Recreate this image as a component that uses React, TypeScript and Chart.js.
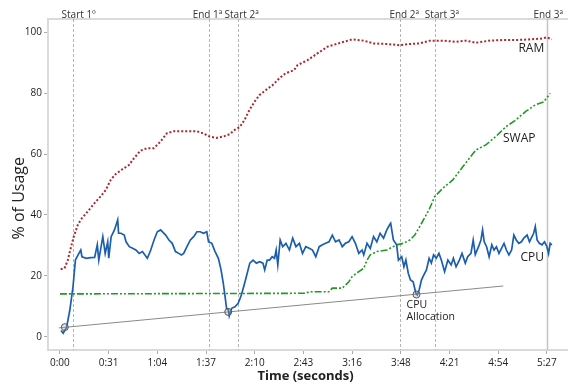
import React, { useEffect, useRef } from "react";
import { Chart, registerables } from "chart.js";

Chart.register(...registerables);

// X axis ticks (seconds) and their labels
const tickSeconds = [0, 32.7, 65.4, 98.1, 130.8, 163.5, 196.2, 228.9, 261.6, 294.3, 327];
const tickLabels = ["0:00", "0:31", "1:04", "1:37", "2:10", "2:43", "3:16", "3:48", "4:21", "4:54", "5:27"];
const yTicks = [0, 20, 40, 60, 80, 100];

// Phase markers
const phaseNames = ["Start 1º", "End 1ª", "Start 2ª", "End 2ª", "Start 3ª", "End 3ª"];
const phaseTimes = [8.9, 100.4, 119.9, 228.6, 251.6, 327];
const phaseLabelTimes = [12.6, 99.1, 122.0, 231.2, 256.5, 327.9];

// Series: [seconds, % usage]
const cpuSamples: [number, number][] = [
  [0.7, 2.1], [2.2, 1.2], [4.5, 3.2], [6.7, 8.9], [8.8, 16.5], [10.4, 25.2], [12.2, 26.9], [14.0, 28.5],
  [14.8, 26.3], [17.8, 25.8], [20.6, 26.0], [23.3, 26.1], [25.1, 30.2], [26.1, 25.2], [28.8, 32.9], [30.4, 27.4],
  [32.1, 31.2], [32.8, 25.8], [34.4, 32.9], [35.5, 34.0], [36.6, 35.1], [37.7, 36.7], [38.8, 38.4], [39.4, 34.0],
  [41.0, 34.0], [43.2, 33.4], [44.4, 31.2], [46.6, 29.6], [48.8, 29.1], [51.0, 28.5], [53.2, 27.4], [55.4, 28.0],
  [58.7, 25.8], [61.0, 28.5], [63.2, 31.8], [65.4, 34.5], [67.6, 35.1], [71.0, 33.4], [73.2, 31.8], [75.4, 30.7],
  [77.6, 28.0], [79.8, 27.4], [81.6, 26.9], [83.1, 27.4], [85.3, 29.6], [87.6, 31.8], [89.8, 32.9], [92.0, 34.5],
  [94.2, 34.5], [96.4, 34.0], [98.6, 34.5], [99.8, 31.2], [102.0, 30.7], [104.2, 28.0], [106.4, 25.8], [108.2, 22.0],
  [109.7, 17.6], [110.9, 13.2], [111.9, 9.4], [113.1, 8.9], [113.7, 6.9], [115.3, 9.4], [117.5, 9.9], [119.7, 11.0],
  [121.9, 13.8], [123.7, 17.0], [125.2, 19.8], [127.5, 24.2], [129.7, 25.2], [131.9, 24.2], [134.2, 24.7], [136.3, 24.2],
  [137.5, 22.0], [139.2, 25.2], [140.8, 25.2], [142.5, 26.3], [144.1, 25.8], [145.2, 28.5], [146.3, 23.6], [147.9, 31.8],
  [149.6, 29.6], [151.8, 30.7], [154.1, 28.5], [156.3, 32.4], [158.5, 29.6], [160.8, 30.7], [162.9, 27.4], [165.1, 29.6],
  [167.4, 29.1], [169.6, 28.5], [171.8, 26.3], [174.1, 29.6], [176.3, 30.2], [178.4, 30.7], [180.7, 31.2], [182.9, 33.4],
  [185.1, 31.2], [187.4, 31.8], [189.6, 29.6], [191.7, 30.7], [194.0, 31.2], [196.2, 32.9], [198.4, 30.7], [200.7, 27.4],
  [202.9, 28.5], [204.0, 26.9], [206.2, 30.7], [208.4, 29.0], [210.6, 32.9], [212.8, 31.2], [215.0, 34.0], [217.3, 32.4],
  [219.5, 35.1], [221.3, 36.7], [222.1, 37.3], [223.9, 31.8], [226.1, 30.2], [227.3, 25.2], [229.5, 26.3], [231.0, 23.0],
  [232.3, 25.2], [233.9, 20.9], [235.4, 18.7], [237.2, 18.1], [239.0, 14.3], [239.9, 13.8], [241.2, 15.4], [242.8, 18.7],
  [244.3, 20.3], [246.1, 22.0], [247.9, 25.8], [249.4, 24.2], [250.9, 26.9], [252.7, 25.8], [254.5, 27.4], [256.1, 25.2],
  [258.3, 21.4], [260.5, 25.2], [262.7, 23.6], [264.2, 25.8], [266.0, 23.0], [268.2, 25.2], [270.0, 27.4], [272.2, 24.2],
  [273.8, 26.3], [276.0, 27.4], [277.5, 31.8], [278.9, 27.0], [281.1, 29.6], [282.7, 31.8], [283.8, 35.1], [284.9, 31.2],
  [286.5, 29.6], [288.2, 26.3], [290.0, 30.2], [291.5, 28.5], [293.1, 29.6], [294.8, 27.4], [296.6, 29.1], [298.2, 30.7],
  [299.8, 28.5], [301.5, 26.9], [303.3, 28.5], [304.8, 33.4], [306.4, 31.8], [308.1, 30.7], [309.9, 31.2], [311.5, 32.4],
  [313.7, 33.4], [315.3, 31.2], [317.0, 32.9], [318.1, 34.0], [319.2, 36.2], [320.4, 31.8], [321.9, 30.7], [323.7, 30.2],
  [325.4, 31.2], [327.0, 29.6], [328.1, 27.4], [329.2, 30.7], [330.3, 30.2],
];

const ramSamples: [number, number][] = [
  [0.5, 22.2], [3.1, 22.5], [5.3, 25.2], [7.5, 29.6], [9.3, 32.9], [12.0, 36.7], [14.2, 38.6], [18.6, 41.1],
  [23.1, 43.8], [27.5, 46.2], [30.8, 48.2], [34.1, 51.5], [37.4, 53.4], [41.9, 55.0], [46.4, 56.4], [49.7, 58.6],
  [54.1, 61.1], [58.5, 61.9], [63.0, 61.9], [67.4, 64.0], [71.8, 66.8], [76.3, 67.5], [85.1, 67.5], [91.8, 67.5],
  [96.2, 66.8], [100.6, 65.7], [105.1, 65.3], [109.5, 65.7], [113.9, 66.5], [117.3, 67.9], [120.6, 68.8], [123.9, 71.1],
  [127.2, 74.4], [130.6, 77.1], [133.9, 79.3], [138.3, 81.0], [142.8, 82.6], [147.2, 84.8], [151.6, 86.5], [157.2, 87.5],
  [159.6, 89.2], [166.3, 90.8], [172.9, 93.0], [179.6, 95.2], [188.4, 96.5], [196.2, 97.6], [204.0, 97.2], [210.6, 96.3],
  [219.5, 96.1], [228.3, 95.7], [235.0, 96.1], [241.6, 96.3], [248.3, 97.2], [257.2, 97.2], [266.0, 96.8], [272.7, 97.2],
  [279.3, 96.5], [288.2, 97.2], [297.1, 97.4], [305.9, 97.4], [314.8, 97.6], [323.7, 97.9], [327.0, 98.3], [330.3, 97.6],
];

const swapSamples: [number, number][] = [
  [0, 14.1], [159.6, 14.3], [164.9, 14.3], [167.6, 14.8], [180.7, 14.8], [182.9, 16.0], [189.6, 16.0], [194.0, 18.1],
  [196.2, 19.8], [200.7, 21.4], [204.0, 22.5], [206.2, 25.2], [208.4, 26.9], [212.8, 28.0], [219.5, 28.5], [226.1, 30.2],
  [230.6, 30.7], [235.0, 31.8], [238.3, 33.4], [241.6, 36.2], [245.0, 39.2], [248.3, 42.2], [251.6, 46.0], [257.2, 48.8],
  [263.8, 51.5], [270.5, 55.8], [274.9, 58.6], [279.3, 61.3], [286.0, 63.0], [292.6, 65.7], [299.3, 68.9], [305.9, 71.1],
  [312.6, 73.9], [319.2, 76.1], [324.8, 77.1], [329.2, 79.9],
];

const trendLine: [number, number][] = [[-0.7, 2.95], [297.7, 16.7]];
const allocPoints: [number, number][] = [[3.3, 3.2], [113.0, 8.2], [239.4, 13.9]];

// Series name annotations: [text, seconds, value]
const seriesNames: [string, number, number][] = [
  ["RAM", 316.5, 94.6],
  ["SWAP", 308.4, 65.1],
  ["CPU", 317.2, 25.9],
];
const allocLabelLines = ["CPU", "Allocation"];
const allocLabelPos: [number, number] = [232.8, 10.5];
const yTitle = "% of Usage";
const yTitleCenterValue = 45.5;

const FONT = "'Open Sans', 'Noto Sans', sans-serif";

const toXY = (arr: [number, number][]) => arr.map(([x, y]) => ({ x, y }));

const overlayPlugin = {
  id: "overlay",
  beforeDatasetsDraw(chart: any) {
    const { ctx, chartArea, scales } = chart;
    const xs = scales.x;
    ctx.save();
    // frame: left, top, bottom
    ctx.strokeStyle = "#dadada";
    ctx.lineWidth = 2;
    ctx.beginPath();
    ctx.moveTo(chart.width + 2, chartArea.top);
    ctx.lineTo(chartArea.left, chartArea.top);
    ctx.lineTo(chartArea.left, chartArea.bottom);
    ctx.lineTo(chart.width + 2, chartArea.bottom);
    ctx.stroke();
    // phase lines
    phaseTimes.forEach((t, i) => {
      const px = Math.round(xs.getPixelForValue(t)) + 0.5;
      ctx.beginPath();
      if (i === phaseTimes.length - 1) {
        ctx.setLineDash([]);
        ctx.strokeStyle = "#c4c4c4";
        ctx.lineWidth = 1.5;
      } else {
        ctx.setLineDash([3, 2]);
        ctx.strokeStyle = "#b4b4b4";
        ctx.lineWidth = 1;
      }
      ctx.moveTo(px, chartArea.top);
      ctx.lineTo(px, chartArea.bottom);
      ctx.stroke();
    });
    ctx.restore();
  },
  afterDatasetsDraw(chart: any) {
    const { ctx, chartArea, scales } = chart;
    const xs = scales.x;
    const ys = scales.y;
    ctx.save();
    ctx.fillStyle = "#333";
    ctx.font = `10px ${FONT}`;
    ctx.textAlign = "center";
    ctx.textBaseline = "middle";
    phaseNames.forEach((name, i) => {
      ctx.fillText(name, xs.getPixelForValue(phaseLabelTimes[i]), chartArea.top - 4);
    });
    ctx.font = `12px ${FONT}`;
    ctx.fillStyle = "#222";
    seriesNames.forEach(([text, t, v]) => {
      ctx.fillText(text, xs.getPixelForValue(t), ys.getPixelForValue(v));
    });
    ctx.font = `10.5px ${FONT}`;
    ctx.textAlign = "left";
    const ax = xs.getPixelForValue(allocLabelPos[0]);
    const ay = ys.getPixelForValue(allocLabelPos[1]);
    allocLabelLines.forEach((line, i) => ctx.fillText(line, ax, ay + i * 12));
    // y title
    ctx.translate(19, ys.getPixelForValue(yTitleCenterValue));
    ctx.rotate(-Math.PI / 2);
    ctx.textAlign = "center";
    ctx.font = `16px ${FONT}`;
    ctx.fillStyle = "#222";
    ctx.fillText(yTitle, 0, 0);
    ctx.restore();
  },
};

export default function App() {
  const canvasRef = useRef<HTMLCanvasElement | null>(null);

  useEffect(() => {
    const canvas = canvasRef.current;
    if (!canvas) return;
    const chart = new Chart(canvas, {
      type: "line",
      data: {
        datasets: [
          {
            label: "Allocation points",
            data: toXY(allocPoints),
            showLine: false,
            pointRadius: 3.5,
            pointBorderColor: "#555",
            pointBackgroundColor: "rgba(170,170,170,0.35)",
            pointBorderWidth: 1,
            order: 0,
          },
          {
            label: "CPU",
            data: toXY(cpuSamples),
            borderColor: "#1b5eac",
            borderWidth: 1.7,
            pointRadius: 0,
            tension: 0,
            order: 1,
          },
          {
            label: "Trend",
            data: toXY(trendLine),
            borderColor: "#8a8a8a",
            borderWidth: 1,
            pointRadius: 0,
            order: 2,
          },
          {
            label: "SWAP",
            data: toXY(swapSamples),
            borderColor: "#1f9a23",
            borderWidth: 1.6,
            borderDash: [7, 2, 2, 2, 2, 2],
            pointRadius: 0,
            order: 3,
          },
          {
            label: "RAM",
            data: toXY(ramSamples),
            borderColor: "#ab2730",
            borderWidth: 2,
            borderDash: [2, 2],
            pointRadius: 0,
            order: 4,
          },
        ],
      },
      options: {
        animation: false,
        responsive: false,
        maintainAspectRatio: false,
        devicePixelRatio: 1,
        layout: { padding: { top: 19, left: 0, right: 0, bottom: 0 } },
        plugins: { legend: { display: false }, tooltip: { enabled: false } },
        scales: {
          x: {
            type: "linear",
            min: -8,
            max: 337.8,
            afterBuildTicks: (scale: any) => {
              scale.ticks = tickSeconds.map((v) => ({ value: v }));
            },
            afterFit: (scale: any) => {
              scale.height = 35;
            },
            ticks: {
              autoSkip: false,
              maxRotation: 0,
              padding: 3,
              color: "#222",
              font: { family: FONT, size: 10 },
              callback: (v: any) => {
                const i = tickSeconds.indexOf(Number(v));
                return i >= 0 ? tickLabels[i] : "";
              },
            },
            grid: { drawOnChartArea: false, drawTicks: true, tickLength: 4, color: "#aaa" },
            border: { display: false },
            title: {
              display: true,
              text: "Time (seconds)",
              color: "#222",
              font: { family: FONT, size: 13, weight: "bold" },
              padding: { top: 0, bottom: 1 },
            },
          },
          y: {
            type: "linear",
            min: -4.3,
            max: 104.3,
            afterBuildTicks: (scale: any) => {
              scale.ticks = yTicks.map((v) => ({ value: v }));
            },
            afterFit: (scale: any) => {
              scale.width = 48;
            },
            ticks: {
              padding: 2,
              color: "#222",
              font: { family: FONT, size: 10 },
              callback: (v: any) => String(v),
            },
            grid: { drawOnChartArea: false, drawTicks: true, tickLength: 4, color: "#aaa" },
            border: { display: false },
            title: { display: false },
          },
        },
      },
      plugins: [overlayPlugin],
    });
    return () => chart.destroy();
  }, []);

  return (
    <div style={{ position: "absolute", left: 0, top: 0, width: 568, height: 385, background: "#fff" }}>
      <canvas ref={canvasRef} width={568} height={385} style={{ display: "block", width: 568, height: 385 }} />
    </div>
  );
}
